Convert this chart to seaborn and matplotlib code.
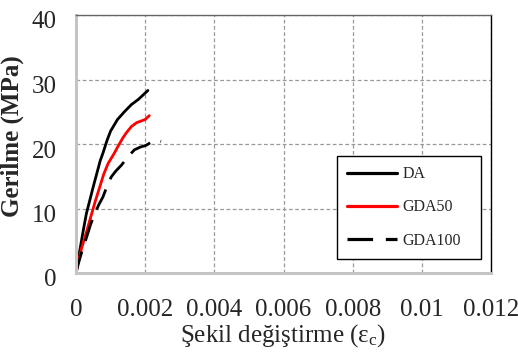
import matplotlib
matplotlib.use("Agg")
import matplotlib.pyplot as plt
import matplotlib.transforms as mtransforms
import seaborn as sns
import pandas as pd

# ---- data ----
da_strain = [0, 0.0001, 0.0002, 0.0003, 0.0005, 0.0007, 0.00078, 0.0009, 0.001,
             0.0012, 0.0014, 0.0016, 0.0018, 0.0019, 0.0020, 0.00208]
da_stress = [0, 3.2, 6.3, 9.2, 13.4, 17.4, 18.6, 20.6, 22.0,
             23.8, 25.0, 26.1, 26.9, 27.4, 27.9, 28.3]

gda50_strain = [0, 0.00008, 0.00016, 0.0003, 0.0004, 0.00055, 0.00069, 0.0008, 0.00093,
                0.0011, 0.00121, 0.00135, 0.00145, 0.0016, 0.00175, 0.0019, 0.002, 0.00212]
gda50_stress = [0, 2.0, 3.8, 6.3, 8.2, 11.0, 13.4, 15.3, 17.0,
                18.5, 19.6, 20.9, 21.7, 22.7, 23.3, 23.6, 23.8, 24.4]

gda100_strain = [0, 0.00007, 0.00018, 0.00031, 0.00042, 0.00055, 0.00066, 0.00078, 0.0009,
                 0.00102, 0.00115, 0.00131, 0.0015, 0.00169, 0.00185, 0.00203, 0.00215, 0.00231, 0.00246]
gda100_stress = [0, 1.5, 3.5, 5.6, 7.5, 9.3, 10.6, 11.8, 13.5,
                 14.9, 15.8, 16.7, 18.0, 19.1, 19.5, 19.8, 20.2, 20.6, 20.4]

series_names = ["DA", "GDA50", "GDA100"]
x_ticks = [0, 0.002, 0.004, 0.006, 0.008, 0.01, 0.012]
x_tick_labels = ["0", "0.002", "0.004", "0.006", "0.008", "0.01", "0.012"]
y_ticks = [0, 10, 20, 30, 40]

sns.set_style("white")
plt.rcParams["font.family"] = ["Liberation Serif", "DejaVu Serif"]
plt.rcParams["mathtext.fontset"] = "custom"
plt.rcParams["mathtext.rm"] = "Liberation Serif"
plt.rcParams["mathtext.it"] = "Liberation Serif:italic"

fig = plt.figure(figsize=(5.18, 3.56), dpi=100)
ax = fig.add_axes([76 / 518, 1 - 273 / 356, (491 - 76) / 518, (273 - 15) / 356])

data = [(da_strain, da_stress), (gda50_strain, gda50_stress), (gda100_strain, gda100_stress)]
colors = ["black", "#ff0000", "black"]
styles = ["-", "-", (0, (8, 4))]
for name, (xs, ys), c, ls in zip(series_names, data, colors, styles):
    df = pd.DataFrame({"strain": xs, "stress": ys})
    sns.lineplot(data=df, x="strain", y="stress", sort=False, ax=ax, color=c,
                 lw=2.0, linestyle=ls, label=name, estimator=None)

ax.set_xlim(0, 0.012)
ax.set_ylim(0, 40)
ax.set_xticks(x_ticks)
ax.set_xticklabels(x_tick_labels)
ax.set_yticks(y_ticks)
ax.tick_params(axis="both", length=0, labelsize=18)
ax.tick_params(axis="x", pad=19)
ax.tick_params(axis="y", pad=14)
offset = mtransforms.ScaledTranslation(0, -5 / 100, fig.dpi_scale_trans)
for lab in ax.get_yticklabels():
    lab.set_transform(lab.get_transform() + offset)

ax.grid(True, color="#999999", linestyle=(0, (3, 2)), lw=0.9)

ax.spines["left"].set_color("#c4c4c4")
ax.spines["left"].set_linewidth(2.2)
ax.spines["bottom"].set_color("#c4c4c4")
ax.spines["bottom"].set_linewidth(2.2)
ax.spines["top"].set_color("#666666")
ax.spines["top"].set_linestyle((0, (2, 1)))
ax.spines["top"].set_linewidth(1.0)
ax.spines["right"].set_color("black")
ax.spines["right"].set_linewidth(1.0)

ax.set_xlabel("Şekil değiştirme (ε$_\\mathrm{c}$)", fontsize=18)
ax.set_ylabel("Gerilme (MPa)", fontsize=18, fontweight="bold")
ax.xaxis.set_label_coords(0.5, -0.19)
ax.yaxis.set_label_coords(-0.125, 0.53)

leg = ax.legend(loc="lower left", bbox_to_anchor=(0.629, 0.054, 0.347, 0.396),
                mode="expand", fontsize=11.5, frameon=True, fancybox=False,
                framealpha=1, edgecolor="black", handlelength=3.1,
                handletextpad=0.35, labelspacing=1.08, borderpad=0.65,
                borderaxespad=0)
leg.get_frame().set_linewidth(1.0)
for line in leg.get_lines():
    line.set_linewidth(2.3)

fig.savefig("out.png", dpi=100)
